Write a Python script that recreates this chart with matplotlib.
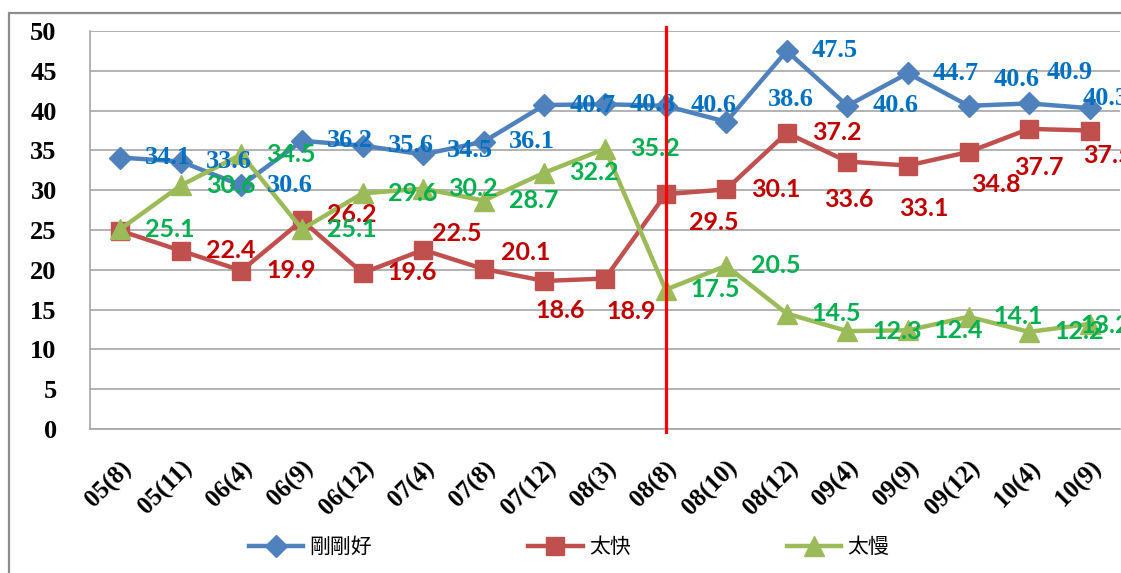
import matplotlib.pyplot as plt
from matplotlib.patches import Rectangle

periods = ["05(8)", "05(11)", "06(4)", "06(9)", "06(12)", "07(4)", "07(8)", "07(12)", "08(3)",
           "08(8)", "08(10)", "08(12)", "09(4)", "09(9)", "09(12)", "10(4)", "10(9)"]
just_right = [34.1, 33.6, 30.6, 36.2, 35.6, 34.5, 36.1, 40.7, 40.8, 40.6, 38.6, 47.5, 40.6, 44.7, 40.6, 40.9, 40.3]
too_fast = [24.9, 22.4, 19.9, 26.2, 19.6, 22.5, 20.1, 18.6, 18.9, 29.5, 30.1, 37.2, 33.6, 33.1, 34.8, 37.7, 37.5]
too_slow = [25.1, 30.6, 34.5, 25.1, 29.6, 30.2, 28.7, 32.2, 35.2, 17.5, 20.5, 14.5, 12.3, 12.4, 14.1, 12.2, 13.2]
names = ["剛剛好", "太快", "太慢"]
split_at = "08(8)"

# label placement tweaks (pixels, relative to marker), default is right of the marker
blue_off = {5: (24, 4), 10: (42, 22), 14: (25, 26), 15: (18, 31), 16: (-7, 10)}
red_off = {3: (25, 6), 5: (9, 16), 6: (17, 17), 7: (-9, -30), 8: (1, -33), 9: (23, -28),
           12: (-23, -38), 13: (-9, -43), 14: (3, -33), 15: (-15, -39), 16: (-7, -25)}
green_off = {16: (-9, -2)}

W, H = 1121, 573
fig = plt.figure(figsize=(W / 100, H / 100), dpi=100)
ax = fig.add_axes([90 / W, 1 - 429 / H, 1030 / W, 398 / H])

x = list(range(len(periods)))
series = [
    (just_right, "#4F81BD", "D", 11, "#0070C0", "Liberation Serif", 19, blue_off),
    (too_fast, "#C0504D", "s", 13, "#C00000", "Lato", 18, red_off),
    (too_slow, "#9BBB59", "^", 15, "#00B050", "Lato", 18, green_off),
]
for (vals, col, mk, ms, *_), name in zip(series, names):
    ax.plot(x, vals, color=col, lw=3.2, marker=mk, markersize=ms,
            markerfacecolor=col, markeredgecolor=col, label=name)

for vals, col, mk, ms, tcol, fam, fs, offs in series:
    for i, v in enumerate(vals):
        if vals is too_fast and i == 0:
            continue
        dx, dy = offs.get(i, (25, 0))
        ax.annotate(f"{v:.1f}", (i, v), xytext=(dx, dy), textcoords="offset pixels",
                    ha="left", va="center", color=tcol, fontsize=fs,
                    fontweight="bold", family=fam, annotation_clip=False)

ax.axvline(periods.index(split_at), ymin=-0.008, ymax=1.01, color="red", lw=2.3, clip_on=False, zorder=5)

ax.set_xlim(-0.5, len(periods) - 0.5)
ax.set_ylim(0, 50)
ax.set_yticks(range(0, 51, 5))
ax.yaxis.grid(True, color="#A6A6A6", lw=1.2)
ax.set_axisbelow(True)
for s in ["top", "right"]:
    ax.spines[s].set_visible(False)
for s in ["left", "bottom"]:
    ax.spines[s].set_color("#A6A6A6")
    ax.spines[s].set_linewidth(1.2)
ax.tick_params(axis="y", length=0, pad=24)
ax.tick_params(axis="x", length=0, pad=20)
ax.set_xticks(x)
ax.set_xticklabels(periods, rotation=45, ha="right", rotation_mode="anchor")
for t in ax.get_yticklabels() + ax.get_xticklabels():
    t.set_family("Liberation Serif")
    t.set_fontweight("bold")
for t in ax.get_yticklabels():
    t.set_fontsize(19)
for t in ax.get_xticklabels():
    t.set_fontsize(18)

fig.legend(loc="center", bbox_to_anchor=(569 / W, 1 - 547 / H), ncol=3, frameon=False,
           prop={"family": ["Noto Sans CJK TC", "DejaVu Sans"], "size": 15},
           handlelength=2.6, handletextpad=0.3, columnspacing=7.5)

fig.patches.append(Rectangle((9 / W, -0.1), 1.2, 1 - 13 / H + 0.1, transform=fig.transFigure,
                             fill=False, edgecolor="#8C8C8C", lw=1.6))

fig.savefig("out.png", dpi=100)
